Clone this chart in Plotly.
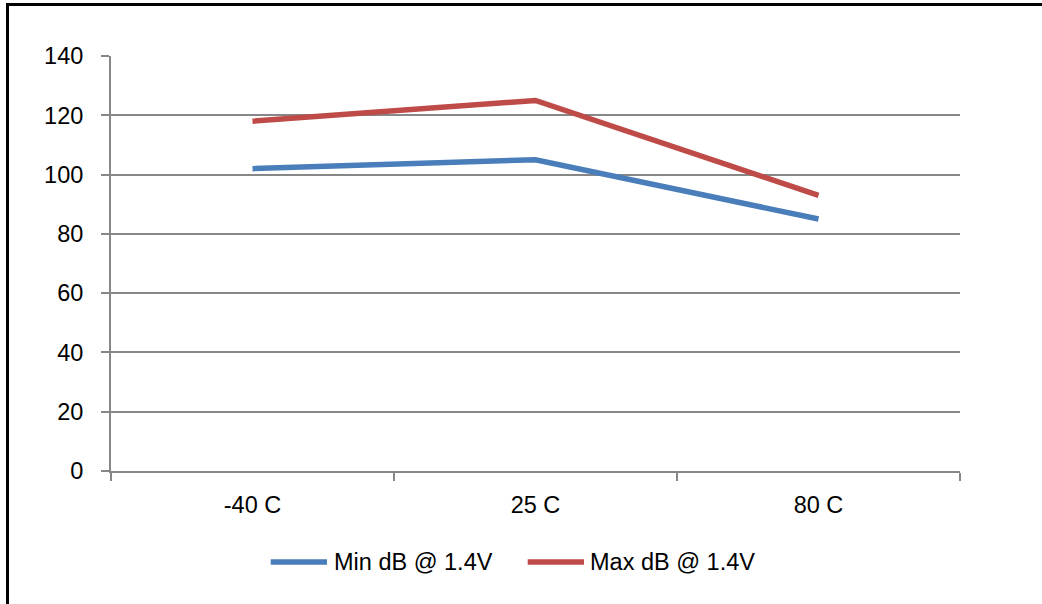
import plotly.graph_objects as go

categories = ["-40 C", "25 C", "80 C"]
min_db = [102, 105, 85]
max_db = [118, 125, 93]
y_ticks = [0, 20, 40, 60, 80, 100, 120, 140]
series_names = ["Min dB @ 1.4V", "Max dB @ 1.4V"]
series_colors = ["#4A7EBB", "#BE4B48"]

W, H = 1042, 604
L, R, T, B = 111, 960, 56, 471
pw, ph = R - L, B - T

def px(x):
    return (x - L) / pw

def py(y):
    return (B - y) / ph

FONT = "Liberation Sans, Arial, sans-serif"
FS = 23.5
GRID = "#878787"

fig = go.Figure()
for vals, name, col in zip([min_db, max_db], series_names, series_colors):
    fig.add_trace(go.Scatter(x=categories, y=vals, mode="lines", name=name,
                             line=dict(color=col, width=5.5), showlegend=False))

fig.update_layout(
    width=W, height=H,
    margin=dict(l=L, r=W - R, t=T, b=H - B),
    paper_bgcolor="white", plot_bgcolor="white",
    font=dict(family=FONT, size=FS, color="black"),
    showlegend=False,
    xaxis=dict(type="category", range=[-0.5, 2.5], tickson="boundaries",
               showgrid=False, showline=True, linecolor=GRID, linewidth=2,
               ticks="outside", ticklen=8, tickwidth=2, tickcolor=GRID,
               ticklabelstandoff=12, zeroline=False),
    yaxis=dict(range=[0, 140], tickvals=y_ticks, showgrid=True, gridcolor=GRID, gridwidth=2,
               showline=True, linecolor=GRID, linewidth=2,
               ticks="outside", ticklen=8, tickwidth=2, tickcolor=GRID,
               zeroline=False, ticklabelstandoff=13),
)

# legend (Excel style, long line samples)
leg = [(270.7, 327, 332), (527.7, 584, 588)]
for (x0, x1, tx), name, col in zip(leg, series_names, series_colors):
    fig.add_shape(type="line", xref="paper", yref="paper",
                  x0=px(x0), x1=px(x1), y0=py(562), y1=py(562),
                  line=dict(color=col, width=5.5))
    fig.add_annotation(xref="paper", yref="paper", x=px(tx), y=py(562),
                       text=name, showarrow=False, xanchor="left", yanchor="middle",
                       font=dict(family=FONT, size=FS, color="black"))

fig.add_shape(type="rect", xref="paper", yref="paper",
              x0=px(7.5), x1=px(1060), y0=py(4.5), y1=py(620),
              line=dict(color="black", width=3), fillcolor="rgba(0,0,0,0)", layer="above")

fig.write_html("out.html", config={"displayModeBar": False},
               post_script="document.body.style.margin='0';document.body.style.overflow='hidden';")
